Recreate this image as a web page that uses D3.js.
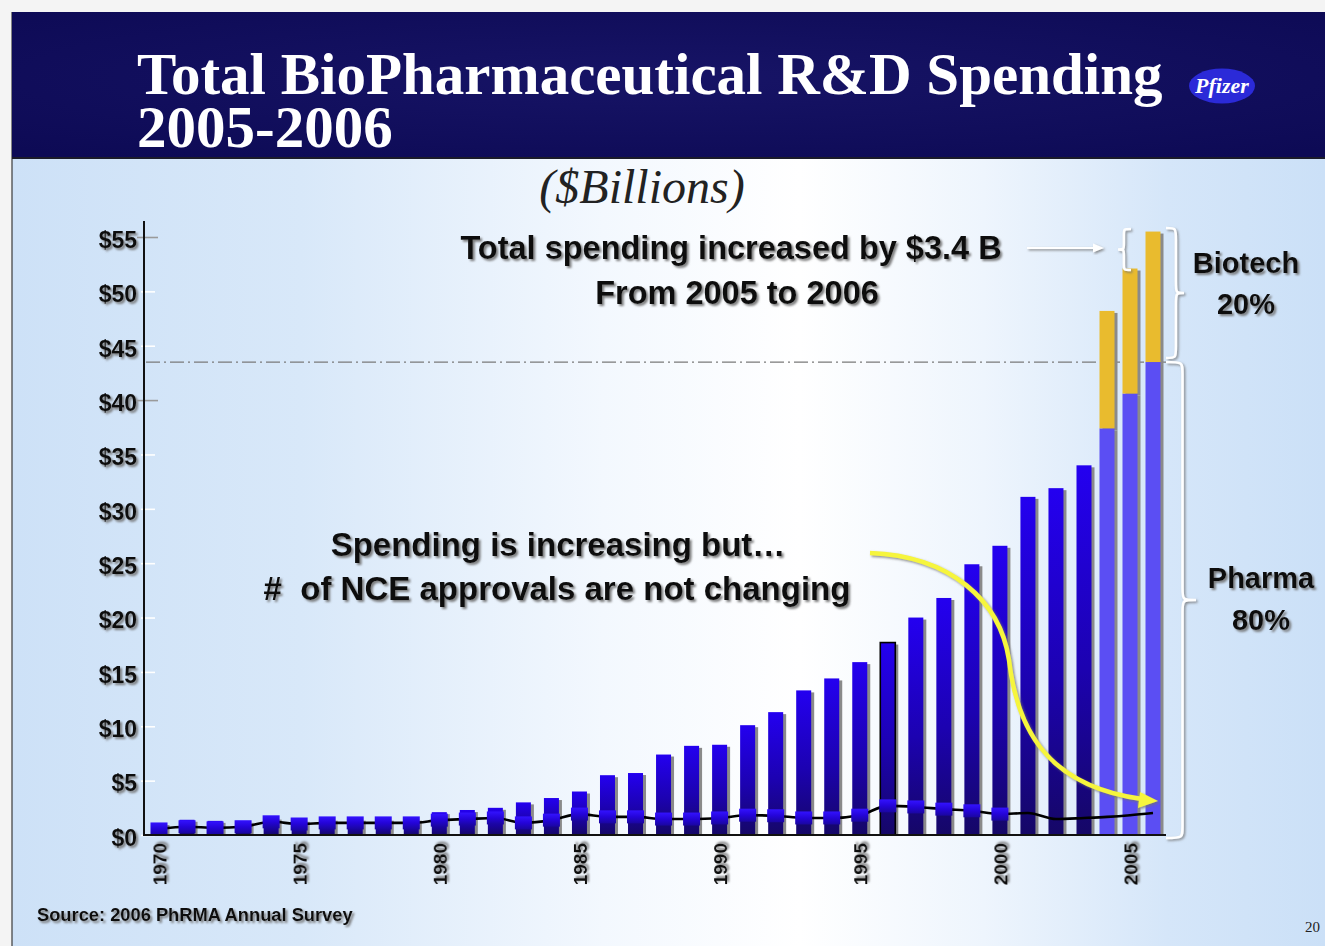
<!DOCTYPE html>
<html>
<head>
<meta charset="utf-8">
<script src="https://cdn.jsdelivr.net/npm/d3@7"></script>
<style>
  html, body { margin: 0; padding: 0; background: #ffffff; }
  svg { display: block; }
</style>
</head>
<body>
<svg id="chart" width="1325" height="946"></svg>
<script>
// ---- data ($ billions) ----
const years = [1970, 1971, 1972, 1973, 1974, 1975, 1976, 1977, 1978, 1979,
               1980, 1981, 1982, 1983, 1984, 1985, 1986, 1987, 1988, 1989,
               1990, 1991, 1992, 1993, 1994, 1995, 1996, 1997, 1998, 1999,
               2000, 2001, 2002, 2003, 2004, 2005, 2006];
// pharma R&D spending per year
const pharma = [1.1, 1.4, 1.3, 1.3, 1.6, 1.4, 1.5, 1.5, 1.5, 1.5,
                2.1, 2.3, 2.5, 3.0, 3.4, 4.0, 5.5, 5.7, 7.4, 8.2,
                8.3, 10.1, 11.3, 13.3, 14.4, 15.9, 17.7, 20.0, 21.8, 24.9,
                26.6, 31.1, 31.9, 34.0, 37.4, 40.6, 43.5];
// biotech R&D spending stacked on top of pharma
const biotechYears = [2004, 2005, 2006];
const biotech = [10.8, 11.5, 12.0];
// NCE approvals per year (secondary, unlabelled scale)
const nce = [11, 15, 13, 15, 24, 20, 22, 22, 22, 22,
             27, 29, 31, 22, 27, 38, 33, 33, 29, 29,
             31, 36, 35, 31, 31, 36, 53, 51, 47, 44,
             38, 40, 29, 31, 33, 36, 40];
const nceMarkerYears = [1970, 1971, 1972, 1973, 1974, 1975, 1976, 1977, 1978, 1979,
                        1980, 1981, 1982, 1983, 1984, 1985, 1986, 1987, 1988, 1989,
                        1990, 1991, 1992, 1993, 1994, 1995, 1996, 1997, 1998, 1999, 2000];
const yTicks = [0, 5, 10, 15, 20, 25, 30, 35, 40, 45, 50, 55];
const xTicks = [1970, 1975, 1980, 1985, 1990, 1995, 2000, 2005];
const outlinedYear = 1996;

const svg = d3.select("#chart");
const W = 1325, H = 946;
const sans = "'Liberation Sans', Arial, sans-serif";
const serif = "'Liberation Serif', 'Times New Roman', serif";

// ---- defs ----
const defs = svg.append("defs");
const bg = defs.append("linearGradient").attr("id", "bodyBg")
  .attr("x1", 0).attr("x2", 1).attr("y1", 0).attr("y2", 0);
[[0, "#cde1f7"], [0.22, "#d8e8f9"], [0.45, "#f3f8fe"], [0.6, "#ffffff"],
 [0.74, "#eef5fd"], [0.88, "#d5e6f9"], [1, "#cbe0f7"]]
  .forEach(([o, c]) => bg.append("stop").attr("offset", o).attr("stop-color", c));

const banner = defs.append("radialGradient").attr("id", "bannerBg")
  .attr("cx", 0.5).attr("cy", 0.45).attr("r", 0.7);
banner.append("stop").attr("offset", 0).attr("stop-color", "#171466");
banner.append("stop").attr("offset", 1).attr("stop-color", "#0d0a55");

const barGrad = defs.append("linearGradient").attr("id", "barGrad")
  .attr("x1", 0).attr("x2", 0).attr("y1", 0).attr("y2", 1);
barGrad.append("stop").attr("offset", 0).attr("stop-color", "#2400f0");
barGrad.append("stop").attr("offset", 0.55).attr("stop-color", "#1c02b0");
barGrad.append("stop").attr("offset", 1).attr("stop-color", "#150766");

const markGrad = defs.append("linearGradient").attr("id", "markGrad")
  .attr("x1", 0).attr("x2", 0).attr("y1", 0).attr("y2", 1);
markGrad.append("stop").attr("offset", 0).attr("stop-color", "#3312ff");
markGrad.append("stop").attr("offset", 0.5).attr("stop-color", "#2404d8");
markGrad.append("stop").attr("offset", 1).attr("stop-color", "#1a06a0");

const shadow = defs.append("filter").attr("id", "txtShadow")
  .attr("x", "-10%").attr("y", "-20%").attr("width", "130%").attr("height", "160%");
shadow.append("feDropShadow").attr("dx", 2).attr("dy", 2)
  .attr("stdDeviation", 0.9).attr("flood-color", "#6f6f6f").attr("flood-opacity", 0.9);

const softShadow = defs.append("filter").attr("id", "softShadow")
  .attr("x", "-20%").attr("y", "-10%").attr("width", "150%").attr("height", "130%");
softShadow.append("feDropShadow").attr("dx", 1.5).attr("dy", 1.5)
  .attr("stdDeviation", 1).attr("flood-color", "#707070").attr("flood-opacity", 0.8);

// ---- slide background ----
svg.append("rect").attr("width", W).attr("height", H).attr("fill", "#f4f4f4");
svg.append("rect").attr("x", 12).attr("y", 12).attr("width", W - 12).attr("height", H - 12)
  .attr("fill", "url(#bodyBg)");
svg.append("line").attr("x1", 12).attr("x2", 12).attr("y1", 12).attr("y2", H)
  .attr("stroke", "#3a3a3a").attr("stroke-width", 1.2);

// title banner
svg.append("rect").attr("x", 12).attr("y", 12).attr("width", W - 12).attr("height", 146)
  .attr("fill", "url(#bannerBg)");
svg.append("line").attr("x1", 12).attr("x2", W).attr("y1", 158).attr("y2", 158)
  .attr("stroke", "#1b1b2a").attr("stroke-width", 2);
const title = svg.append("text")
  .attr("font-family", serif).attr("font-weight", "bold").attr("font-size", 59)
  .attr("fill", "#ffffff");
title.append("tspan").attr("x", 137).attr("y", 94).text("Total BioPharmaceutical R&D Spending");
title.append("tspan").attr("x", 137).attr("y", 147).text("2005-2006");

// company logo
svg.append("ellipse").attr("cx", 1222).attr("cy", 86).attr("rx", 33).attr("ry", 17.5)
  .attr("fill", "#2b2ad8");
svg.append("text").attr("x", 1222).attr("y", 93).attr("text-anchor", "middle")
  .attr("font-family", serif).attr("font-weight", "bold").attr("font-style", "italic")
  .attr("font-size", 22).attr("fill", "#ffffff").text("Pfizer");

// unit subtitle
svg.append("text").attr("x", 642).attr("y", 203).attr("text-anchor", "middle")
  .attr("font-family", serif).attr("font-style", "italic").attr("font-size", 48)
  .attr("fill", "#222222").text("($Billions)");

// ---- scales ----
const y = d3.scaleLinear().domain([0, 55]).range([835, 237]);
const x = d3.scaleLinear().domain([1970, 2003, 2006]).range([159, 1084, 1153]);
const yN = d3.scaleLinear().domain([0, 100]).range([835, 780]);
const bw = 15;

const plot = svg.append("g");

// guide at the 2006 pharma level
plot.append("line").attr("x1", 146).attr("x2", 1168)
  .attr("y1", y(pharma[pharma.length - 1])).attr("y2", y(pharma[pharma.length - 1]))
  .attr("stroke", "#7a7a7a").attr("stroke-width", 1.3)
  .attr("stroke-dasharray", "14,4,2,4");

// bar drop shadows
const barData = years.map((yr, i) => ({ yr, v: pharma[i] }));
plot.selectAll("rect.shadow").data(barData).join("rect").attr("class", "shadow")
  .attr("x", d => x(d.yr) - bw / 2 + 3)
  .attr("y", d => y(d.v) + 2)
  .attr("width", bw).attr("height", d => y(0) - y(d.v) - 2)
  .attr("fill", "#8a8a8a");
const bioData = biotechYears.map((yr, i) => ({ yr, base: pharma[years.indexOf(yr)], v: biotech[i] }));
plot.selectAll("rect.bioShadow").data(bioData).join("rect").attr("class", "bioShadow")
  .attr("x", d => x(d.yr) - bw / 2 + 3)
  .attr("y", d => y(d.base + d.v) + 2)
  .attr("width", bw).attr("height", d => y(d.base) - y(d.base + d.v))
  .attr("fill", "#8a8a8a");

// pharma bars
plot.selectAll("rect.pharma").data(barData).join("rect").attr("class", "pharma")
  .attr("x", d => x(d.yr) - bw / 2)
  .attr("y", d => y(d.v))
  .attr("width", bw).attr("height", d => y(0) - y(d.v))
  .attr("fill", d => biotechYears.includes(d.yr) ? "#5b4ef3" : "url(#barGrad)")
  .attr("stroke", d => d.yr === outlinedYear ? "#000000" : "none")
  .attr("stroke-width", 1.6);

// biotech segments
plot.selectAll("rect.bio").data(bioData).join("rect").attr("class", "bio")
  .attr("x", d => x(d.yr) - bw / 2)
  .attr("y", d => y(d.base + d.v))
  .attr("width", bw).attr("height", d => y(d.base) - y(d.base + d.v))
  .attr("fill", "#e9bb2e");

// NCE approvals line and markers
const nceData = years.map((yr, i) => ({ yr, v: nce[i] }));
plot.append("path").datum(nceData)
  .attr("d", d3.line().x(d => x(d.yr)).y(d => yN(d.v)).curve(d3.curveMonotoneX))
  .attr("fill", "none").attr("stroke", "#000000").attr("stroke-width", 2.6);
plot.selectAll("rect.mark").data(nceData.filter(d => nceMarkerYears.includes(d.yr)))
  .join("rect").attr("class", "mark")
  .attr("x", d => x(d.yr) - 8.5).attr("y", d => yN(d.v) - 6.5)
  .attr("width", 17).attr("height", 13)
  .attr("fill", "url(#markGrad)");

// ---- axes ----
const yAxis = svg.append("g").attr("transform", "translate(144,0)")
  .call(d3.axisLeft(y).tickValues(yTicks).tickSize(0).tickPadding(7).tickFormat(d => "$" + d));
yAxis.select(".domain").remove();
yAxis.selectAll("text").attr("font-family", sans).attr("font-weight", "bold")
  .attr("font-size", 23).attr("fill", "#111111").attr("filter", "url(#txtShadow)")
  .attr("dy", "0.45em");
yAxis.selectAll(".tick").append("line")
  .attr("x1", d => (d === 55 || d === 40) ? -7 : -3)
  .attr("x2", d => (d === 55 || d === 40) ? 14 : 11)
  .attr("stroke", d => (d === 55 || d === 40) ? "#9a9a9a" : "#ffffff")
  .attr("stroke-width", 1.6);
svg.append("line").attr("x1", 144).attr("x2", 144).attr("y1", 221).attr("y2", 836)
  .attr("stroke", "#111111").attr("stroke-width", 2);

const xAxis = svg.append("g").attr("transform", "translate(0,835)")
  .call(d3.axisBottom(x).tickValues(xTicks).tickSize(0).tickFormat(d3.format("d")));
xAxis.select(".domain").remove();
xAxis.selectAll("text")
  .attr("font-family", sans).attr("font-weight", "bold").attr("font-size", 19)
  .attr("fill", "#111111").attr("filter", "url(#txtShadow)")
  .attr("text-anchor", "end").attr("transform", "rotate(-90)")
  .attr("x", -8).attr("y", 0).attr("dy", "0.36em");
svg.append("line").attr("x1", 144).attr("x2", 1166).attr("y1", 835).attr("y2", 835)
  .attr("stroke", "#111111").attr("stroke-width", 2);

// ---- annotations ----
function label(txt, cx, cy, size) {
  svg.append("text").attr("x", cx).attr("y", cy)
    .attr("text-anchor", "middle")
    .attr("font-family", sans).attr("font-weight", "bold").attr("font-size", size)
    .attr("fill", "#111111").attr("filter", "url(#txtShadow)").text(txt);
}
label("Total spending increased by $3.4 B", 731, 259, 32.5);
label("From 2005 to 2006", 737, 304, 32.5);
label("Spending is increasing but\u2026", 558, 556, 33);
label("#\u00a0\u00a0of NCE approvals are not changing", 557, 600, 33);
label("Biotech", 1246, 273, 29);
label("20%", 1246, 314, 29);
label("Pharma", 1261, 588, 29);
label("80%", 1261, 630, 29);

// right-facing brace from y0 to y1
function braceRight(xl, y0, y1, w) {
  const ym = (y0 + y1) / 2, q = 12, xm = xl + w * 0.55;
  return `M${xl},${y0} C${xm},${y0} ${xm},${y0} ${xm},${y0 + q} L${xm},${ym - q}` +
         ` C${xm},${ym} ${xm},${ym} ${xl + w},${ym} C${xm},${ym} ${xm},${ym} ${xm},${ym + q}` +
         ` L${xm},${y1 - q} C${xm},${y1} ${xm},${y1} ${xl},${y1}`;
}
function braceLeft(xr, y0, y1, w) {
  const ym = (y0 + y1) / 2, q = 6, xm = xr - w * 0.55;
  return `M${xr},${y0} C${xm},${y0} ${xm},${y0} ${xm},${y0 + q} L${xm},${ym - q}` +
         ` C${xm},${ym} ${xm},${ym} ${xr - w},${ym} C${xm},${ym} ${xm},${ym} ${xm},${ym + q}` +
         ` L${xm},${y1 - q} C${xm},${y1} ${xm},${y1} ${xr},${y1}`;
}
const braces = svg.append("g").attr("fill", "none").attr("stroke", "#ffffff")
  .attr("stroke-width", 2.6).attr("filter", "url(#softShadow)");
braces.append("path").attr("d", braceRight(1166, 228, 358, 18));
braces.append("path").attr("d", braceRight(1166, 362, 838, 30));
braces.append("path").attr("d", braceLeft(1131, 229, 270, 13));

// white pointer to the 2006 increase
const wArrow = svg.append("g").attr("filter", "url(#softShadow)");
wArrow.append("line").attr("x1", 1027).attr("x2", 1096).attr("y1", 248).attr("y2", 248)
  .attr("stroke", "#ffffff").attr("stroke-width", 2.2);
wArrow.append("path").attr("d", "M1104,248 L1093,243.5 L1093,252.5 Z").attr("fill", "#ffffff");

// yellow curved arrow
const yArrow = svg.append("g").attr("filter", "url(#softShadow)");
yArrow.append("path")
  .attr("d", "M870,553 C950,556 1000,600 1009,660 C1016,720 1040,785 1142,799")
  .attr("fill", "none").attr("stroke", "#f6f53c").attr("stroke-width", 4.5);
yArrow.append("path").attr("d", "M1158,801 L1140,792 L1138,808 Z").attr("fill", "#f6f53c");

// footer
svg.append("text").attr("x", 37).attr("y", 921)
  .attr("font-family", sans).attr("font-weight", "bold").attr("font-size", 18.3)
  .attr("fill", "#111111").attr("filter", "url(#txtShadow)")
  .text("Source: 2006 PhRMA Annual Survey");
svg.append("text").attr("x", 1320).attr("y", 932).attr("text-anchor", "end")
  .attr("font-family", serif).attr("font-size", 15).attr("fill", "#222222").text("20");
</script>
</body>
</html>
